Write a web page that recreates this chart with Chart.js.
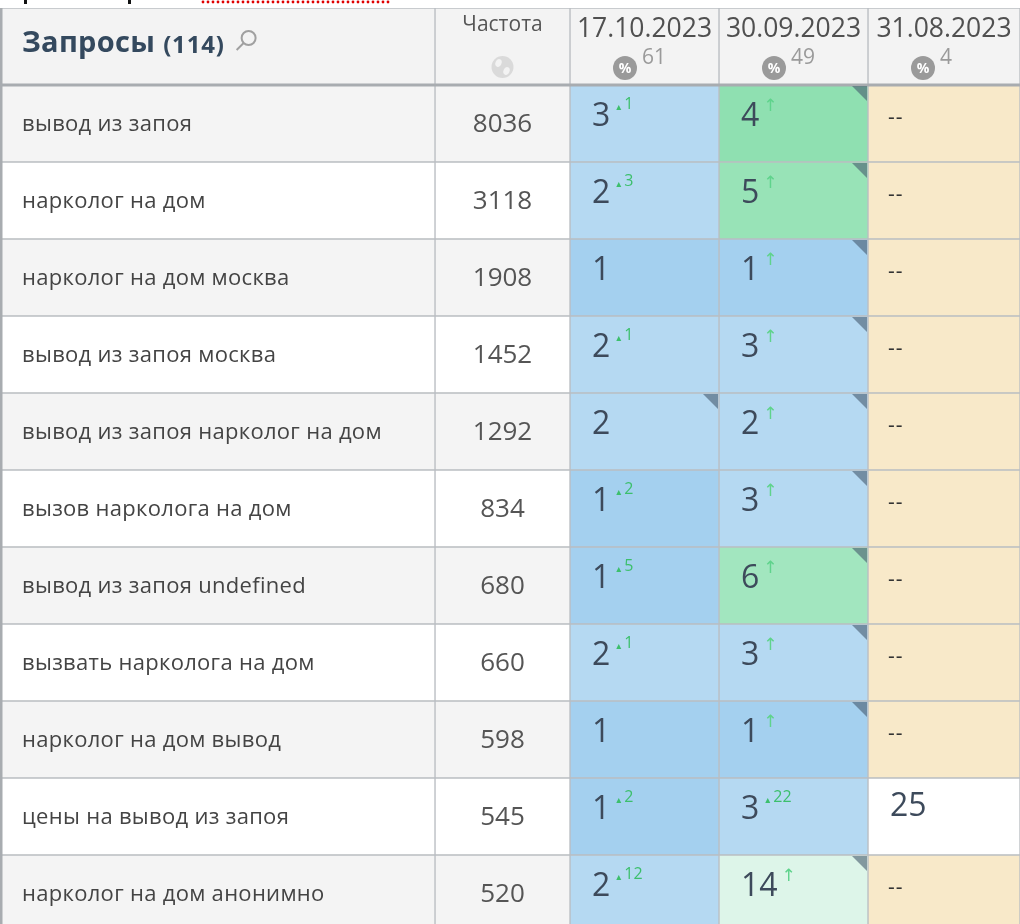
<!DOCTYPE html>
<html>
<head>
<meta charset="utf-8">
<script src="https://cdn.jsdelivr.net/npm/chart.js@4.4.0/dist/chart.umd.min.js"></script>
<style>
  html, body { margin: 0; padding: 0; background: #fff; overflow: hidden; }
  #wrap { position: relative; width: 1020px; height: 932px; }
</style>
</head>
<body>
<div id="wrap"><canvas id="posChart"></canvas></div>
<script>
// --- dati della tabella ---
const queries = [
    'вывод из запоя',
    'нарколог на дом',
    'нарколог на дом москва',
    'вывод из запоя москва',
    'вывод из запоя нарколог на дом',
    'вызов нарколога на дом',
    'вывод из запоя undefined',
    'вызвать нарколога на дом',
    'нарколог на дом вывод',
    'цены на вывод из запоя',
    'нарколог на дом анонимно'
];
const queryCount = 114;
const frequency = [8036, 3118, 1908, 1452, 1292, 834, 680, 660, 598, 545, 520];
const dates = ['17.10.2023', '30.09.2023', '31.08.2023'];
const visibility = [61, 49, 4];

const pos1710 = [3, 2, 1, 2, 2, 1, 1, 2, 1, 1, 2];
const delta1710 = [1, 3, null, 1, null, 2, 5, 1, null, 2, 12];
const mark1710 = [0, 0, 0, 0, 1, 0, 0, 0, 0, 0, 0];

const pos3009 = [4, 5, 1, 3, 2, 3, 6, 3, 1, 3, 14];
const delta3009 = ['↑', '↑', '↑', '↑', '↑', '↑', '↑', '↑', '↑', 22, '↑'];
const mark3009 = [1, 1, 1, 1, 1, 1, 1, 1, 1, 0, 1];

const pos3108 = [null, null, null, null, null, null, null, null, null, 25, null];
const delta3108 = [null, null, null, null, null, null, null, null, null, null, null];
const mark3108 = [0, 0, 0, 0, 0, 0, 0, 0, 0, 0, 0];

// layout colonne (bordi in unità della scala x)
const colEdges = [0, 435, 570, 719, 868, 1020];

const positions = [pos1710, pos3009, pos3108];
const deltas = [delta1710, delta3009, delta3108];
const marks = [mark1710, mark3009, mark3108];

const rowLabels = ['header'].concat(queries);

// colore della cella in base alla posizione
function posColor(p) {
    if (p === null) return '#f8e9c9';
    if (p === 1) return '#a4d0ef';
    if (p <= 3) return '#b5d9f2';
    if (p === 4) return '#8fe0b1';
    if (p === 5) return '#98e3b7';
    if (p <= 10) return '#a2e6bf';
    if (p <= 20) return '#ddf5e9';
    return '#ffffff';
}

function rowColor(r) {
    return (r % 2 === 1) ? '#f4f4f4' : '#ffffff';
}

const datasets = [];
for (let c = 0; c < 5; c++) {
    const colors = rowLabels.map((_, r) => {
        if (r === 0) return '#f3f3f3';
        if (c < 2) return rowColor(r);
        return posColor(positions[c - 2][r - 1]);
    });
    datasets.push({
        data: rowLabels.map(() => [colEdges[c], colEdges[c + 1]]),
        backgroundColor: colors,
        borderColor: '#babec2',
        borderWidth: 1,
        borderSkipped: false
    });
}

function cell(chart, c, r) {
    const el = chart.getDatasetMeta(c).data[r];
    const l = Math.min(el.x, el.base), rr = Math.max(el.x, el.base);
    return { l: l, r: rr, t: el.y - el.height / 2, b: el.y + el.height / 2, cy: el.y, cx: (l + rr) / 2 };
}

const FONT = '"Open Sans", "Noto Sans", sans-serif';

const tablePlugin = {
    id: 'tableText',
    afterDatasetsDraw(chart) {
        const ctx = chart.ctx;
        ctx.save();

        // resto del testo tagliato sopra la tabella
        ctx.fillStyle = '#111';
        ctx.fillRect(24, 0, 3, 4);
        ctx.fillRect(128, 0, 3, 4);
        ctx.fillStyle = '#e00000';
        for (let x = 203; x <= 388; x += 5) {
            ctx.beginPath();
            ctx.arc(x, 2, 1.4, 0, Math.PI * 2);
            ctx.fill();
        }

        // intestazione
        let h = cell(chart, 0, 0);
        ctx.textBaseline = 'middle';
        ctx.textAlign = 'left';
        ctx.fillStyle = '#34495e';
        ctx.letterSpacing = '0.3px';
        ctx.font = 'bold 29px ' + FONT;
        ctx.fillText('Запросы', h.l + 22, h.t + 36);
        let w = ctx.measureText('Запросы').width;
        ctx.letterSpacing = '0.8px';
        ctx.font = 'bold 24px ' + FONT;
        ctx.fillText('(' + queryCount + ')', h.l + 22 + w + 8, h.t + 38);
        let w2 = ctx.measureText('(' + queryCount + ')').width;
        ctx.letterSpacing = '0px';
        // lente
        const sx = h.l + 22 + w + 8 + w2 + 20, sy = h.t + 30;
        ctx.strokeStyle = '#a0a0a0';
        ctx.lineWidth = 2;
        ctx.beginPath();
        ctx.arc(sx + 4, sy, 7, 0, Math.PI * 2);
        ctx.stroke();
        ctx.beginPath();
        ctx.moveTo(sx - 1, sy + 5);
        ctx.lineTo(sx - 8, sy + 12);
        ctx.stroke();

        h = cell(chart, 1, 0);
        ctx.textAlign = 'center';
        ctx.fillStyle = '#555';
        ctx.font = '21px ' + FONT;
        ctx.fillText('Частота', h.cx, h.t + 17);
        // globo
        ctx.fillStyle = '#dadada';
        ctx.beginPath();
        ctx.arc(h.cx, h.t + 59, 11, 0, Math.PI * 2);
        ctx.fill();
        ctx.fillStyle = '#f3f3f3';
        ctx.beginPath();
        ctx.ellipse(h.cx - 4, h.t + 55, 3, 4, 0.4, 0, Math.PI * 2);
        ctx.fill();
        ctx.beginPath();
        ctx.ellipse(h.cx + 4, h.t + 63, 3, 4, 0.4, 0, Math.PI * 2);
        ctx.fill();

        for (let d = 0; d < dates.length; d++) {
            h = cell(chart, d + 2, 0);
            ctx.textAlign = 'center';
            ctx.fillStyle = '#505050';
            ctx.font = '26.5px ' + FONT;
            ctx.fillText(dates[d], h.cx, h.t + 21);
            const ix = h.l + 55, iy = h.t + 60;
            ctx.fillStyle = '#9a9a9a';
            ctx.beginPath();
            ctx.arc(ix, iy, 12, 0, Math.PI * 2);
            ctx.fill();
            ctx.fillStyle = '#fff';
            ctx.font = 'bold 14px ' + FONT;
            ctx.fillText('%', ix, iy + 1);
            ctx.textAlign = 'left';
            ctx.fillStyle = '#9a9a9a';
            ctx.font = '21px ' + FONT;
            ctx.fillText(String(visibility[d]), ix + 17, h.t + 50);
        }

        // linea sotto l'intestazione
        ctx.strokeStyle = '#a8acb0';
        ctx.lineWidth = 3;
        ctx.beginPath();
        ctx.moveTo(chart.chartArea.left, h.b);
        ctx.lineTo(chart.chartArea.right, h.b);
        ctx.stroke();

        // righe
        for (let i = 0; i < queries.length; i++) {
            const r = i + 1;
            let c0 = cell(chart, 0, r);
            ctx.textAlign = 'left';
            ctx.fillStyle = '#444';
            ctx.letterSpacing = '0.3px';
            ctx.font = '22px ' + FONT;
            ctx.fillText(queries[i], c0.l + 22, c0.cy + 1);
            ctx.letterSpacing = '0px';

            let c1 = cell(chart, 1, r);
            ctx.textAlign = 'center';
            ctx.fillStyle = '#555';
            ctx.font = '26px ' + FONT;
            ctx.fillText(String(frequency[i]), c1.cx, c1.cy + 1);

            for (let d = 0; d < 3; d++) {
                const cc = cell(chart, d + 2, r);
                const p = positions[d][i];
                ctx.textAlign = 'left';
                if (p === null) {
                    ctx.fillStyle = '#333';
                    ctx.letterSpacing = '1px';
                    ctx.font = '21px ' + FONT;
                    ctx.fillText('--', cc.l + 20, cc.cy - 5);
                    ctx.letterSpacing = '0px';
                } else {
                    ctx.fillStyle = '#3d4a5b';
                    ctx.font = '32px ' + FONT;
                    const ty = (p > 20) ? cc.cy - 10 : cc.cy - 7;
                    ctx.fillText(String(p), cc.l + 22, ty);
                    const pw = ctx.measureText(String(p)).width;
                    const dl = deltas[d][i];
                    if (dl === '↑') {
                        ctx.fillStyle = '#5fd38c';
                        ctx.font = '17px "DejaVu Sans", sans-serif';
                        ctx.fillText('↑', cc.l + 22 + pw + 4, cc.cy - 17);
                    } else if (dl !== null) {
                        ctx.fillStyle = '#3cbf6c';
                        ctx.font = '10px "DejaVu Sans", sans-serif';
                        ctx.fillText('▴', cc.l + 22 + pw + 6, cc.cy - 16);
                        ctx.font = '16px ' + FONT;
                        ctx.fillText(String(dl), cc.l + 22 + pw + 14, cc.cy - 19);
                    }
                }
                if (marks[d][i]) {
                    ctx.fillStyle = 'rgba(70, 90, 110, 0.6)';
                    ctx.beginPath();
                    ctx.moveTo(cc.r - 1, cc.t + 1);
                    ctx.lineTo(cc.r - 16, cc.t + 1);
                    ctx.lineTo(cc.r - 1, cc.t + 16);
                    ctx.closePath();
                    ctx.fill();
                }
            }
        }

        // bordo sinistro
        ctx.strokeStyle = '#a8acb0';
        ctx.lineWidth = 3;
        ctx.beginPath();
        ctx.moveTo(chart.chartArea.left + 1, chart.chartArea.top);
        ctx.lineTo(chart.chartArea.left + 1, chart.chartArea.bottom);
        ctx.stroke();

        ctx.restore();
    }
};

const ctx = document.getElementById('posChart').getContext('2d');
new Chart(ctx, {
    type: 'bar',
    data: { labels: rowLabels, datasets: datasets },
    options: {
        indexAxis: 'y',
        responsive: true,
        maintainAspectRatio: false,
        animation: false,
        grouped: false,
        categoryPercentage: 1,
        barPercentage: 1,
        layout: { padding: { top: 8, left: 0, right: 0, bottom: 0 } },
        scales: {
            x: { type: 'linear', min: 0, max: 1020, display: false },
            y: { type: 'category', display: false }
        },
        plugins: {
            legend: { display: false },
            tooltip: { enabled: false }
        }
    },
    plugins: [tablePlugin]
});
</script>
</body>
</html>
